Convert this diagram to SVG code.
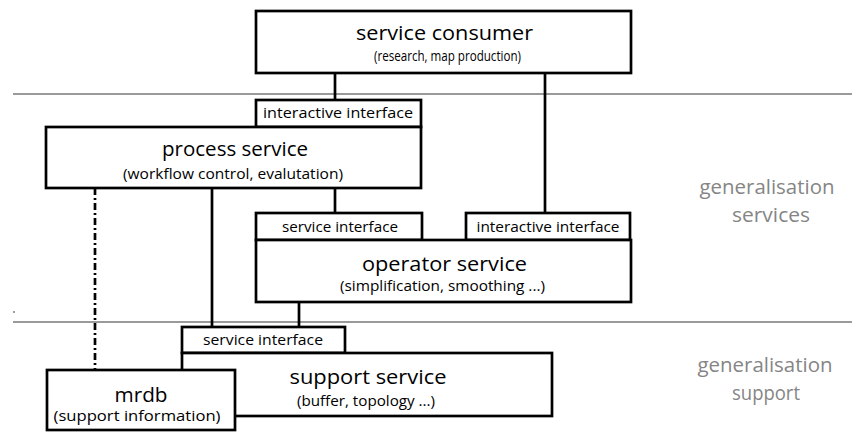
<svg xmlns="http://www.w3.org/2000/svg" width="852" height="432" viewBox="0 0 852 432">
  <style>
    .box { fill: #fff; stroke: #000; stroke-width: 2.7; }
    .wire { stroke: #000; stroke-width: 2.7; fill: none; }
    .dash { stroke: #000; stroke-width: 2.7; fill: none; stroke-dasharray: 7 3 2 3; }
    .tier { stroke: #9a9a9a; stroke-width: 2; }
    text { font-family: "Open Sans", "Noto Sans", "DejaVu Sans", sans-serif; text-anchor: middle; fill: #000; }
    .title { font-size: 20px; }
    .sub { font-size: 14.5px; }
    .port { font-size: 14px; }
    .band { font-size: 19.5px; fill: #858585; }
  </style>
  <rect width="852" height="432" fill="#fff"/>

  <!-- tier separators -->
  <g id="tiers">
    <line class="tier" x1="13" y1="94" x2="852" y2="94"/>
    <line class="tier" x1="13" y1="322" x2="852" y2="322"/>
    <line class="tier" x1="13" y1="312" x2="15" y2="312" stroke-width="1"/>
  </g>

  <!-- connectors -->
  <g id="connectors">
    <line class="wire" x1="335" y1="73" x2="335" y2="100"/>
    <line class="wire" x1="545" y1="73" x2="545" y2="213"/>
    <line class="wire" x1="335" y1="188" x2="335" y2="213"/>
    <line class="wire" x1="212" y1="188" x2="212" y2="327"/>
    <line class="dash" x1="95" y1="188" x2="95" y2="370"/>
    <line class="wire" x1="299" y1="302" x2="299" y2="327" stroke-width="3.5"/>
  </g>

  <g id="service-consumer">
    <rect class="box" x="256" y="11" width="375" height="62"/>
    <text class="title" x="444.5" y="40" textLength="177" lengthAdjust="spacingAndGlyphs">service consumer</text>
    <text class="sub" x="447.5" y="61" textLength="147" lengthAdjust="spacingAndGlyphs">(research, map production)</text>
  </g>

  <g id="process-service">
    <rect class="box" x="256" y="100" width="165" height="27"/>
    <text class="port" x="338" y="118" textLength="150" lengthAdjust="spacingAndGlyphs">interactive interface</text>
    <rect class="box" x="46" y="127" width="375" height="61"/>
    <text class="title" x="235" y="156" textLength="146" lengthAdjust="spacingAndGlyphs">process service</text>
    <text class="sub" x="233" y="179" textLength="220" lengthAdjust="spacingAndGlyphs">(workflow control, evalutation)</text>
  </g>

  <g id="operator-service">
    <rect class="box" x="256" y="213" width="166" height="27"/>
    <text class="port" x="340" y="232" textLength="116" lengthAdjust="spacingAndGlyphs">service interface</text>
    <rect class="box" x="466" y="213" width="164" height="27"/>
    <text class="port" x="548" y="232" textLength="143" lengthAdjust="spacingAndGlyphs">interactive interface</text>
    <rect class="box" x="256" y="240" width="375" height="62"/>
    <text class="title" x="444.5" y="271" textLength="165" lengthAdjust="spacingAndGlyphs">operator service</text>
    <text class="sub" x="442.5" y="291" textLength="205" lengthAdjust="spacingAndGlyphs">(simplification, smoothing ...)</text>
  </g>

  <g id="support-service">
    <rect class="box" x="182" y="327" width="163" height="26"/>
    <text class="port" x="263" y="345" textLength="120" lengthAdjust="spacingAndGlyphs">service interface</text>
    <rect class="box" x="182" y="353" width="370" height="63"/>
    <text class="title" x="368" y="384" textLength="157" lengthAdjust="spacingAndGlyphs">support service</text>
    <text class="sub" x="366" y="406" textLength="138" lengthAdjust="spacingAndGlyphs">(buffer, topology ...)</text>
  </g>

  <g id="mrdb">
    <rect class="box" x="47" y="370" width="188" height="60"/>
    <text class="title" x="141" y="402" textLength="53" lengthAdjust="spacingAndGlyphs">mrdb</text>
    <text class="sub" x="137" y="421" textLength="167" lengthAdjust="spacingAndGlyphs">(support information)</text>
  </g>

  <!-- tier labels -->
  <g id="tier-labels">
    <text class="band" x="767" y="194" textLength="135" lengthAdjust="spacingAndGlyphs">generalisation</text>
    <text class="band" x="771" y="222" textLength="78" lengthAdjust="spacingAndGlyphs">services</text>
    <text class="band" x="765" y="372" textLength="135" lengthAdjust="spacingAndGlyphs">generalisation</text>
    <text class="band" x="766" y="400" textLength="68" lengthAdjust="spacingAndGlyphs">support</text>
  </g>
</svg>
